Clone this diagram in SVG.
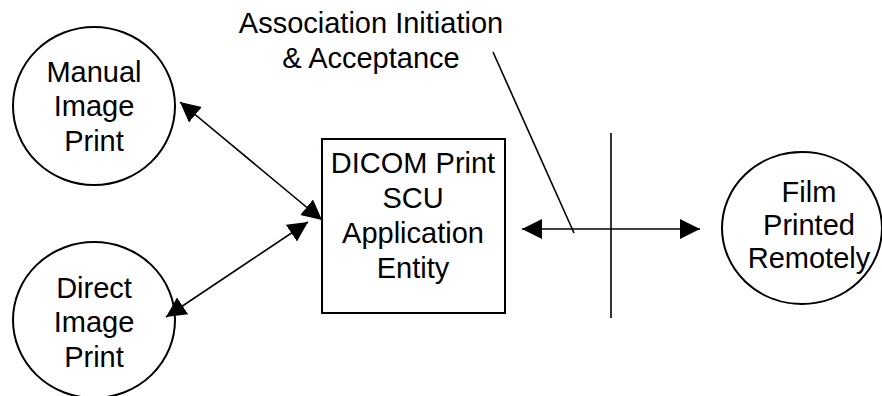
<svg xmlns="http://www.w3.org/2000/svg" width="882" height="396" viewBox="0 0 882 396">
<defs>
<style>
.n{fill:#fff;stroke:#000;stroke-width:2}
.t{font-family:"Liberation Sans",Arial,sans-serif;font-size:29px;fill:#000;text-anchor:middle}
.c{fill:none;stroke:#000;stroke-width:1.6}
</style>
<marker id="ah" markerUnits="userSpaceOnUse" markerWidth="22" markerHeight="22" refX="20" refY="10" orient="auto-start-reverse" viewBox="0 0 22 22">
<path d="M0,0 L20,10 L0,20 z" fill="#000"/>
</marker>
</defs>
<g id="manual">
<ellipse class="n" cx="94" cy="106" rx="81" ry="79"/>
<text class="t" x="94" y="82">Manual</text>
<text class="t" x="94" y="116">Image</text>
<text class="t" x="94" y="151">Print</text>
</g>
<g id="direct">
<ellipse class="n" cx="94" cy="320" rx="81" ry="78"/>
<text class="t" x="94" y="298">Direct</text>
<text class="t" x="94" y="332">Image</text>
<text class="t" x="94" y="367">Print</text>
</g>
<g id="scu">
<rect class="n" x="322" y="139" width="183" height="174"/>
<text class="t" x="413" y="173">DICOM Print</text>
<text class="t" x="413" y="208">SCU</text>
<text class="t" x="413" y="243">Application</text>
<text class="t" x="413" y="278">Entity</text>
</g>
<g id="film">
<ellipse class="n" cx="802" cy="228" rx="80" ry="76"/>
<text class="t" x="809" y="202">Film</text>
<text class="t" x="809" y="235">Printed</text>
<text class="t" x="809" y="268">Remotely</text>
</g>
<g id="label">
<text class="t" x="371" y="33">Association Initiation</text>
<text class="t" x="371" y="68">&amp; Acceptance</text>
</g>
<g id="connectors">
<line class="c" x1="180" y1="102" x2="322" y2="220" marker-start="url(#ah)" marker-end="url(#ah)"/>
<line class="c" x1="166" y1="317" x2="308" y2="222" marker-start="url(#ah)" marker-end="url(#ah)"/>
<line class="c" x1="522" y1="229" x2="700" y2="229" marker-start="url(#ah)" marker-end="url(#ah)"/>
<line class="c" x1="611" y1="133" x2="611" y2="318"/>
<line class="c" x1="493" y1="52" x2="574" y2="233"/>
</g>
</svg>
